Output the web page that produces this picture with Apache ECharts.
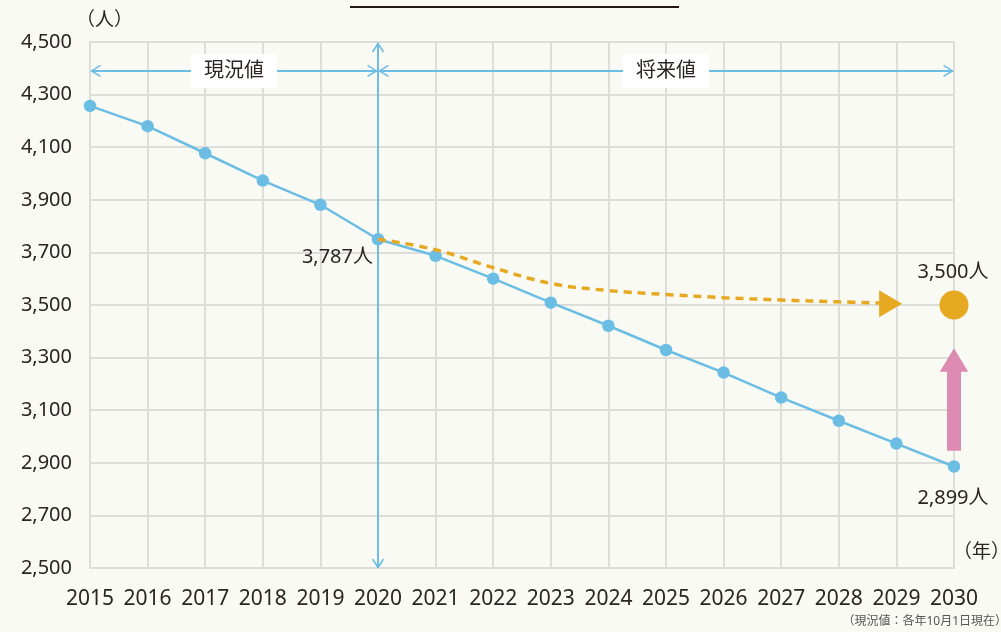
<!DOCTYPE html>
<html>
<head>
<meta charset="utf-8">
<script src="https://cdn.jsdelivr.net/npm/echarts@6/dist/echarts.min.js"></script>
<style>
html,body{margin:0;padding:0;background:#F9FAF4;}
#chart{width:1001px;height:632px;}
</style>
</head>
<body>
<div id="chart"></div>
<script>
// ---- data ----
const years = [2015, 2016, 2017, 2018, 2019, 2020, 2021, 2022, 2023, 2024, 2025, 2026, 2027, 2028, 2029, 2030];
const population = [4257, 4180, 4077, 3973, 3881, 3750, 3687, 3600, 3509, 3421, 3329, 3243, 3148, 3060, 2973, 2886];
const projYears = [2020, 2021, 2022, 2023, 2024, 2025, 2026, 2027, 2028, 2028.7];
const projValues = [3750, 3710, 3642, 3582, 3555, 3540, 3528, 3519, 3512, 3508];
const projArrowHead = [2028.9, 3505];
const targetPoint = [2030, 3500];
const targetRise = [2030, 2946, 3336]; // x, from, to
const periodFrom = [2015, 2020];
const periodTo = [2020, 2030];
const periodLabels = ['現況値', '将来値'];
const periodLevel = 4390;
const divider = [2020, 2500, 4500];
const calloutX = [2020, 2030, 2030];
const calloutY = [3750, 3500, 2886];
const calloutText = ['3,787人', '3,500人', '2,899人'];
const yMin = 2500, yMax = 4500, yStep = 200;
const xMin = 2015, xMax = 2030, xStep = 1;
const yUnit = '（人）';
const xUnit = '（年）';
const footnote = '（現況値：各年10月1日現在）';

// ---- styles ----
const FONT = '"Noto Sans", "Noto Sans CJK JP", sans-serif';
const TXT = '#2A2422';
const BLUE = '#6BBDE4';
const ORANGE = '#E8A922';
const PINK = '#DE8BB1';
const GRID = '#DDDDDA';

const chart = echarts.init(document.getElementById('chart'));

const option = {
  backgroundColor: '#F9FAF4',
  animation: false,
  grid: { left: 90, right: 47, top: 42, bottom: 64 },
  graphic: [
    { type: 'line', shape: { x1: 350, y1: 7, x2: 679, y2: 7 }, style: { stroke: '#231815', lineWidth: 1.8 } },
    { type: 'text', style: { text: yUnit, x: 76, y: 21, fontSize: 19, fontFamily: FONT, fill: TXT, verticalAlign: 'middle' } },
    { type: 'text', style: { text: xUnit, x: 953, y: 553, fontSize: 19, fontFamily: FONT, fill: TXT, verticalAlign: 'middle' } },
    { type: 'text', style: { text: footnote, x: 1007, y: 622, fontSize: 12, fontFamily: FONT, fill: '#555', align: 'right', verticalAlign: 'middle' } }
  ],
  xAxis: {
    type: 'value', min: xMin, max: xMax, interval: xStep,
    axisLine: { show: true, lineStyle: { color: GRID, width: 2 } },
    axisTick: { show: false },
    splitLine: { show: true, lineStyle: { color: GRID, width: 2 } },
    axisLabel: { formatter: v => String(v), fontSize: 21, color: TXT, margin: 21, fontFamily: FONT }
  },
  yAxis: {
    type: 'value', min: yMin, max: yMax, interval: yStep,
    axisLine: { show: true, lineStyle: { color: GRID, width: 2 } },
    axisTick: { show: false },
    splitLine: { show: true, lineStyle: { color: GRID, width: 2 } },
    axisLabel: { formatter: v => v.toLocaleString('en-US'), fontSize: 20, color: TXT, margin: 18, fontFamily: FONT }
  },
  series: [
    {
      type: 'custom', z: 2, silent: true,
      encode: { x: 0, y: [1, 2] },
      data: [divider],
      renderItem: (params, api) => {
        const top = api.coord([api.value(0), api.value(2)]);
        const bot = api.coord([api.value(0), api.value(1)]);
        const x = top[0];
        return {
          type: 'group', children: [
            { type: 'line', shape: { x1: x, y1: top[1] + 1, x2: x, y2: bot[1] }, style: { stroke: BLUE, lineWidth: 2 } },
            { type: 'polyline', shape: { points: [[x - 5.5, top[1] + 10], [x, top[1] + 1.5], [x + 5.5, top[1] + 10]] }, style: { stroke: BLUE, lineWidth: 1.5, fill: 'none' } },
            { type: 'polyline', shape: { points: [[x - 5.5, bot[1] - 9], [x, bot[1] - 0.5], [x + 5.5, bot[1] - 9]] }, style: { stroke: BLUE, lineWidth: 1.5, fill: 'none' } }
          ]
        };
      }
    },
    {
      type: 'custom', z: 3, silent: true,
      encode: { x: [0, 1], y: 2 },
      data: periodFrom.map((f, i) => [f, periodTo[i], periodLevel]),
      renderItem: (params, api) => {
        const a = api.coord([api.value(0), api.value(2)]);
        const b = api.coord([api.value(1), api.value(2)]);
        const y = a[1];
        const L = a[0] + 1.5, R = b[0] - 1.5;
        const mid = (a[0] + b[0]) / 2;
        return {
          type: 'group', children: [
            { type: 'line', shape: { x1: L, y1: y, x2: R, y2: y }, style: { stroke: BLUE, lineWidth: 2 } },
            { type: 'polyline', shape: { points: [[L + 9, y - 5.5], [L, y], [L + 9, y + 5.5]] }, style: { stroke: BLUE, lineWidth: 1.5, fill: 'none' } },
            { type: 'polyline', shape: { points: [[R - 9, y - 5.5], [R, y], [R - 9, y + 5.5]] }, style: { stroke: BLUE, lineWidth: 1.5, fill: 'none' } },
            { type: 'rect', shape: { x: mid - 43, y: y - 17, width: 86, height: 34 }, style: { fill: '#FFFFFF' } },
            { type: 'text', style: { text: periodLabels[params.dataIndex], x: mid, y: y, fontSize: 20, fontFamily: FONT, fill: TXT, align: 'center', verticalAlign: 'middle' } }
          ]
        };
      }
    },
    {
      type: 'line', z: 6,
      data: projYears.map((x, i) => [x, projValues[i]]),
      smooth: 0.4, showSymbol: false, symbol: 'none',
      lineStyle: { color: ORANGE, width: 3.5, type: [8, 6], opacity: 1 }
    },
    {
      type: 'scatter', z: 6,
      data: [projArrowHead],
      symbol: 'triangle', symbolRotate: -90, symbolSize: [27, 23],
      itemStyle: { color: ORANGE, opacity: 1 }
    },
    {
      type: 'scatter', z: 6,
      data: [targetPoint],
      symbol: 'circle', symbolSize: 29,
      itemStyle: { color: ORANGE, opacity: 1 }
    },
    {
      type: 'line', z: 5,
      data: years.map((x, i) => [x, population[i]]),
      symbol: 'circle', symbolSize: 12.5, showSymbol: true,
      lineStyle: { color: BLUE, width: 2.5 },
      itemStyle: { color: BLUE, opacity: 1 }
    },
    {
      type: 'custom', z: 6, silent: true,
      encode: { x: 0, y: [1, 2] },
      data: [targetRise],
      renderItem: (params, api) => {
        const b = api.coord([api.value(0), api.value(1)]);
        const t = api.coord([api.value(0), api.value(2)]);
        const x = b[0];
        const hb = t[1] + 23.5;
        return {
          type: 'polygon',
          shape: { points: [[x - 7, b[1]], [x - 7, hb], [x - 14.2, hb], [x, t[1]], [x + 14.2, hb], [x + 7, hb], [x + 7, b[1]]] },
          style: { fill: PINK }
        };
      }
    },
    {
      type: 'custom', z: 7, silent: true,
      encode: { x: 0, y: 1 },
      data: calloutX.map((x, i) => [x, calloutY[i]]),
      renderItem: (params, api) => {
        const p = api.coord([api.value(0), api.value(1)]);
        const i = params.dataIndex;
        let x = p[0], y = p[1], align = 'center';
        if (i === 0) { x -= 5; y += 18.5; align = 'right'; }
        else if (i === 1) { x -= 1; y -= 33; }
        else { x -= 1; y += 32; }
        return { type: 'text', style: { text: calloutText[i], x: x, y: y, fontSize: 20, fontFamily: FONT, fill: TXT, align: align, verticalAlign: 'middle' } };
      }
    }
  ]
};
chart.setOption(option);
</script>
</body>
</html>
